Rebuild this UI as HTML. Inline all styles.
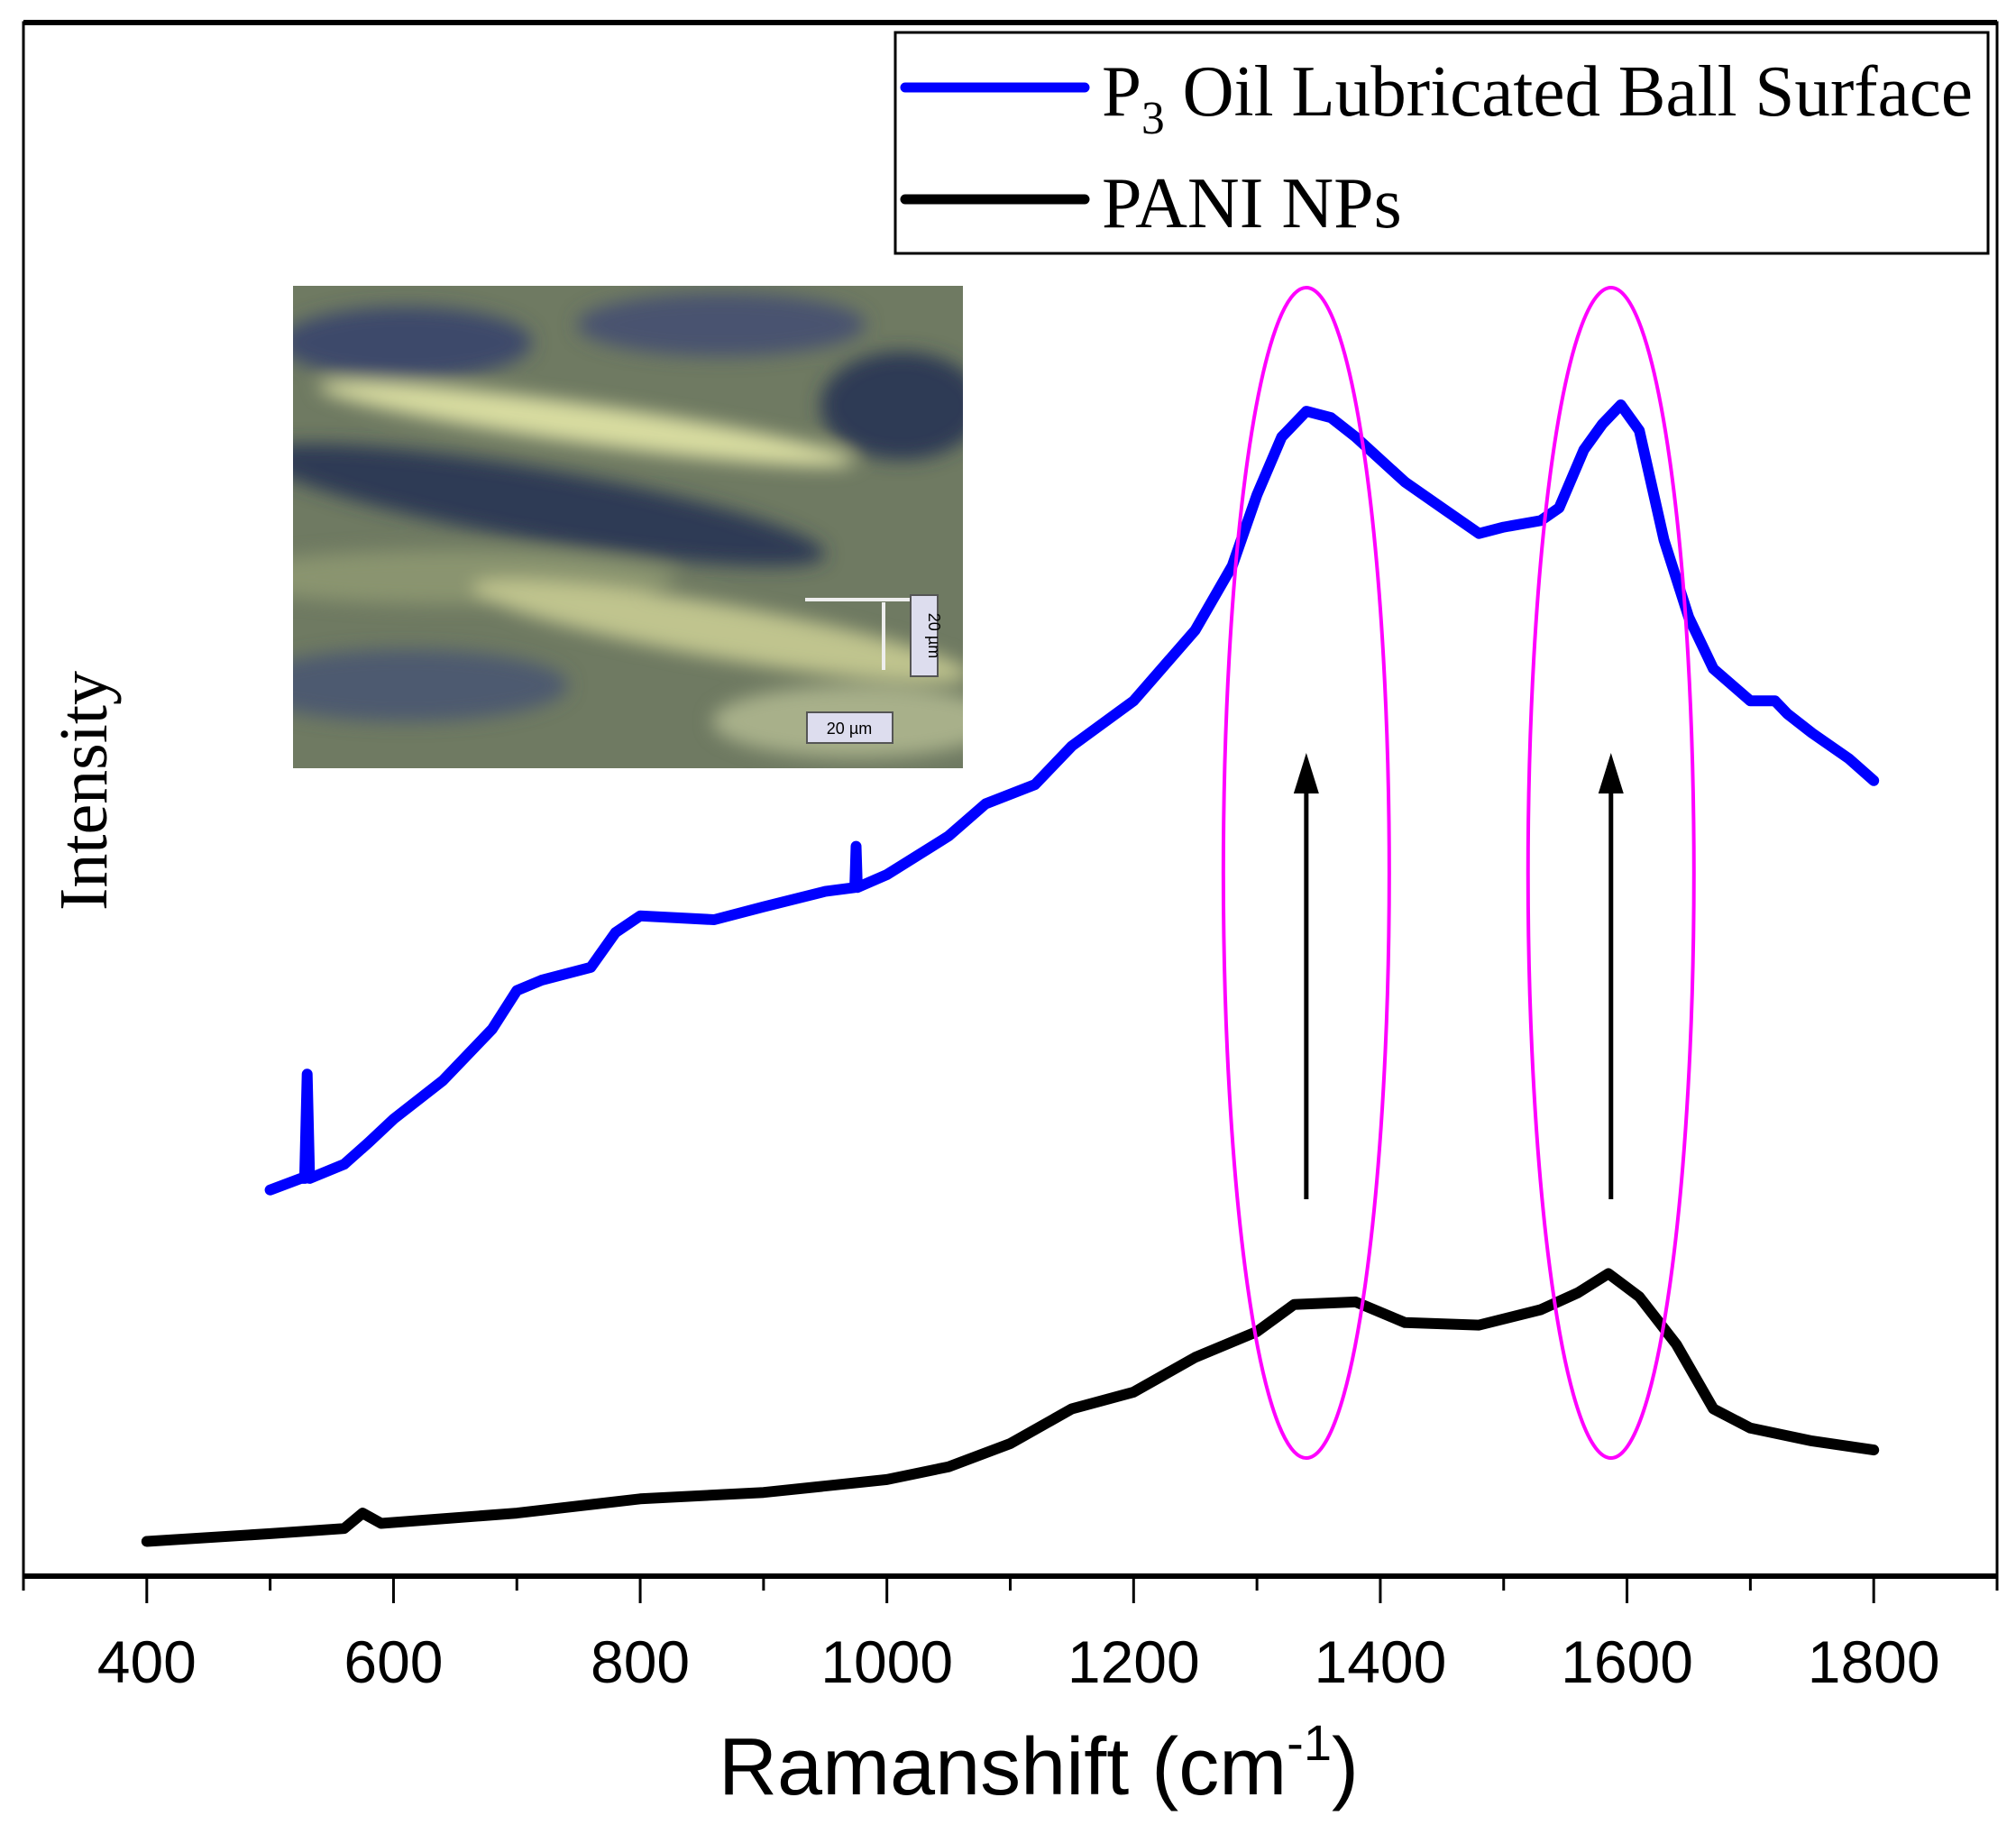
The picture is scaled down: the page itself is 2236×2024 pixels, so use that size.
<!DOCTYPE html>
<html><head><meta charset="utf-8"><style>
html,body{margin:0;padding:0;background:#fff;}
svg{display:block;}
</style></head><body>
<svg id="chart" width="2236" height="2024" viewBox="0 0 2236 2024" xmlns="http://www.w3.org/2000/svg">
<defs>
<filter id="blur8"><feGaussianBlur stdDeviation="10"/></filter>
<clipPath id="insetClip"><rect x="325" y="317" width="743" height="535"/></clipPath>
</defs>
<rect x="0" y="0" width="2236" height="2024" fill="#fff"/>
<g id="inset" clip-path="url(#insetClip)">
<rect x="325" y="317" width="743" height="535" fill="#6f7a62"/>
<g filter="url(#blur8)">
<ellipse cx="450" cy="380" rx="140" ry="40" fill="#3e4a6a"/>
<ellipse cx="800" cy="360" rx="160" ry="35" fill="#4a5270"/>
<ellipse cx="650" cy="470" rx="300" ry="22" fill="#d8dca0" transform="rotate(8 650 470)"/>
<ellipse cx="600" cy="560" rx="320" ry="40" fill="#2f3a55" transform="rotate(10 600 560)"/>
<ellipse cx="500" cy="640" rx="250" ry="30" fill="#8a9470"/>
<ellipse cx="800" cy="700" rx="280" ry="30" fill="#c0c48e" transform="rotate(10 800 700)"/>
<ellipse cx="450" cy="760" rx="180" ry="40" fill="#4e5a70"/>
<ellipse cx="950" cy="800" rx="160" ry="40" fill="#a8b08a"/>
<ellipse cx="1000" cy="450" rx="90" ry="60" fill="#2f3a55"/>
</g>
<rect x="893" y="663" width="140" height="4" fill="#eee"/>
<rect x="978" y="668" width="4" height="75" fill="#eee"/>
<rect x="1010" y="660" width="30" height="90" fill="#dde" stroke="#555" stroke-width="2"/>
<text x="1030" y="705" font-family="Liberation Sans, sans-serif" font-size="18" transform="rotate(90 1030 705)" text-anchor="middle">20 µm</text>
<rect x="895" y="790" width="95" height="34" fill="#dde" stroke="#555" stroke-width="2"/>
<text x="942" y="814" font-family="Liberation Sans, sans-serif" font-size="18" text-anchor="middle">20 µm</text>
</g>
<g id="series"></g>
<g id="annot"></g>
<g id="axes"></g>
<g>
<rect x="993" y="36" width="1212" height="245" fill="#fff" stroke="#000" stroke-width="3"/>
<line x1="1004" y1="97" x2="1203" y2="97" stroke="#0000ff" stroke-width="11" stroke-linecap="round"/>
<text x="1222" y="128" font-family="Liberation Serif, serif" font-size="80" textLength="966" lengthAdjust="spacingAndGlyphs">P<tspan font-size="52" dy="20">3</tspan><tspan dy="-20"> Oil Lubricated Ball Surface</tspan></text>
<line x1="1004" y1="221" x2="1203" y2="221" stroke="#000" stroke-width="11" stroke-linecap="round"/>
<text x="1222" y="252" font-family="Liberation Serif, serif" font-size="80">PANI NPs</text>
</g>
<text x="0" y="0" transform="translate(118 877) rotate(-90)" text-anchor="middle" font-family="Liberation Serif, serif" font-size="76">Intensity</text>
<text x="1152" y="1990" text-anchor="middle" font-family="Liberation Sans, sans-serif" font-size="90">Ramanshift (cm<tspan font-size="56" dy="-38">-1</tspan><tspan dy="38">)</tspan></text>
</svg>
<script>
const xTicks = [400,600,800,1000,1200,1400,1600,1800];
const xMinorTicks = [300,500,700,900,1100,1300,1500,1700,1900];
const paniX = [400,500,560,575,590,700,800,900,1000,1050,1100,1150,1200,1250,1300,1330,1380,1420,1480,1530,1560,1585,1610,1640,1670,1700,1750,1800];
const paniY = [27,33,37,49,41,49,60,65,75,85,103,130,143,170,190,211,213,197,195,207,220,235,217,180,130,115,105,98];
const p3X = [500,525,528,530,532,560,580,600,640,680,700,720,760,780,800,860,900,950,974,975,976,1000,1050,1080,1120,1150,1200,1250,1280,1300,1320,1340,1360,1380,1420,1450,1480,1500,1530,1545,1565,1580,1595,1610,1630,1650,1670,1700,1720,1730,1750,1780,1800];
const p3Y = [300,309,309,390,309,320,337,355,385,425,455,463,473,500,513,510,520,532,535,567,535,545,575,600,615,645,680,735,785,840,885,905,900,885,850,830,810,815,820,830,875,895,910,890,805,745,705,680,680,670,655,635,618];
const peakCenters = [1340,1587];

const NS='http://www.w3.org/2000/svg';
const L=26,R=2215,T=25,B=1748;
const X0=300,X1=1900,Y0=0,Y1=1207;
function sx(v){return L+(v-X0)/(X1-X0)*(R-L);}
function sy(v){return B-(v-Y0)/(Y1-Y0)*(B-T);}
function mk(tag,attrs,parent){const e=document.createElementNS(NS,tag);for(const k in attrs)e.setAttribute(k,attrs[k]);parent.appendChild(e);return e;}
const series=document.getElementById('series'),annot=document.getElementById('annot'),axes=document.getElementById('axes');
function path(xs,ys){return xs.map((x,i)=>(i?'L':'M')+sx(x).toFixed(1)+' '+sy(ys[i]).toFixed(1)).join(' ');}
const pb=mk('path',{d:path(paniX,paniY),fill:'none',stroke:'#000','stroke-width':12,'stroke-linejoin':'round','stroke-linecap':'round'},series);


const pl=mk('path',{d:path(p3X,p3Y),fill:'none',stroke:'#0000ff','stroke-width':12,'stroke-linejoin':'round','stroke-linecap':'round'},series);


peakCenters.forEach((c,i)=>{
  const el=mk('ellipse',{cx:sx(c),cy:968,rx:92,ry:649,fill:'none',stroke:'#ff00ff','stroke-width':4},annot);
  
  
  const ln=mk('line',{x1:sx(c),y1:1330,x2:sx(c),y2:870,stroke:'#000','stroke-width':5},annot);
  
  
  const hd=mk('polygon',{points:`${sx(c)},835 ${sx(c)-14},880 ${sx(c)+14},880`,fill:'#000'},annot);
  
  
});
const fr=mk('rect',{x:L,y:T,width:R-L,height:B-T,fill:'none',stroke:'#000','stroke-width':3},axes);


const tb=mk('line',{x1:L,y1:T,x2:R,y2:T,stroke:'#000','stroke-width':6},axes);


const xa=mk('line',{x1:L,y1:B,x2:R,y2:B,stroke:'#000','stroke-width':6},axes);


xMinorTicks.forEach(v=>{
  const t=mk('line',{x1:sx(v),y1:B,x2:sx(v),y2:B+16,stroke:'#000','stroke-width':3},axes);
  
  
});
xTicks.forEach(v=>{
  const t=mk('line',{x1:sx(v),y1:B,x2:sx(v),y2:B+30,stroke:'#000','stroke-width':3},axes);
  
  
  const lb=mk('text',{x:sx(v),y:1866,'text-anchor':'middle','font-family':'Liberation Sans, sans-serif','font-size':66},axes);
  lb.textContent=v;
  
  
});
</script>
</body></html>
